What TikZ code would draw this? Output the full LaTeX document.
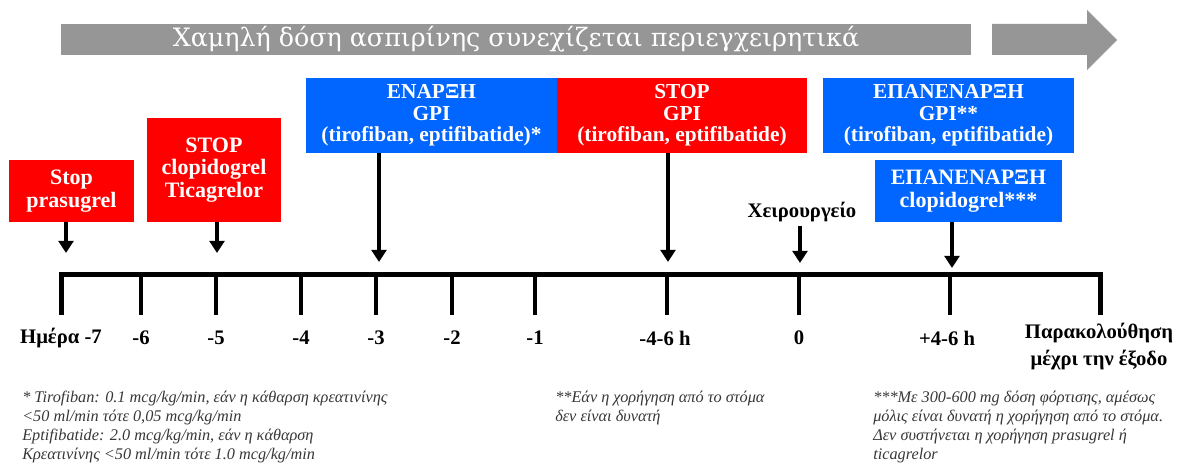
\documentclass[tikz,border=0pt]{standalone}
\usepackage{fontspec}
\setmainfont{Liberation Serif}
\newfontfamily\titlefont{DejaVu Serif}
\usetikzlibrary{arrows.meta}
\definecolor{boxred}{RGB}{255,0,0}
\definecolor{boxblue}{RGB}{0,102,255}
\definecolor{bargray}{RGB}{150,150,150}
\definecolor{notegray}{RGB}{55,55,55}
\begin{document}
\begin{tikzpicture}[x=0.75pt,y=-0.75pt,
  box/.style={rectangle, inner sep=0pt, text=white, font=\bfseries\fontsize{16}{16}\selectfont, align=center},
  redbox/.style={box, fill=boxred},
  bluebox/.style={box, fill=boxblue},
  arr/.style={line width=3pt, -{Triangle[width=11pt,length=9pt]}},
  tickline/.style={line width=3pt},
  lab/.style={font=\bfseries\fontsize{15.5}{20}\selectfont, align=center, inner sep=0pt},
  note/.style={font=\itshape\fontsize{12.2}{14.25}\selectfont, text=notegray, align=left, anchor=north west, inner sep=0pt}]
\useasboundingbox (0,0) rectangle (1190,466);

% top gray arrow
\node[fill=bargray, minimum width=910*0.75pt, minimum height=31*0.75pt, inner sep=0pt,
      text=white, font=\titlefont\fontsize{19}{20}\selectfont] (title) at (516,39.5)
      {Χαμηλή δόση ασπιρίνης συνεχίζεται περιεγχειρητικά};
\fill[bargray] (992,24) -- (1087,24) -- (1087,10) -- (1117,40) -- (1087,70) -- (1087,55) -- (992,55) -- cycle;

% boxes
\node[redbox, minimum width=125*0.75pt, minimum height=62*0.75pt, font=\bfseries\fontsize{16.5}{17}\selectfont] (b1) at (71.5,191) {Stop\\prasugrel};
\node[redbox, minimum width=134*0.75pt, minimum height=104*0.75pt, font=\bfseries\fontsize{16.5}{17}\selectfont] (b2) at (214,170) {STOP\\clopidogrel\\Ticagrelor};
\node[bluebox, minimum width=251*0.75pt, minimum height=75*0.75pt] (b3) at (431.5,115.5) {ΕΝΑΡΞΗ\\GPI\\(tirofiban, eptifibatide)*};
\node[redbox, minimum width=250*0.75pt, minimum height=75*0.75pt] (b4) at (682,115.5) {STOP\\GPI\\(tirofiban, eptifibatide)};
\node[bluebox, minimum width=251*0.75pt, minimum height=75*0.75pt] (b5) at (948.5,115.5) {ΕΠΑΝΕΝΑΡΞΗ\\GPI**\\(tirofiban, eptifibatide)};
\node[bluebox, minimum width=187*0.75pt, minimum height=62*0.75pt, font=\bfseries\fontsize{16.5}{17}\selectfont] (b6) at (968.5,191) {ΕΠΑΝΕΝΑΡΞΗ\\clopidogrel***};
\node[lab] (xc) at (802,212) {Χειρουργείο};

% timeline coordinates
\coordinate (t7) at (61,275);
\coordinate (t6) at (141,275);
\coordinate (t5) at (216,275);
\coordinate (t4) at (301,275);
\coordinate (t3) at (376,275);
\coordinate (t2) at (452,275);
\coordinate (t1) at (535,275);
\coordinate (th) at (667,275);
\coordinate (t0) at (799,275);
\coordinate (tp) at (950,275);
\coordinate (te) at (1100,275);

\foreach \t in {t6,t5,t4,t3,t2,t1,th,t0,tp}
  \draw[tickline] (\t) -- ++(0,40);
\draw[line width=3.75pt, line join=miter] ([yshift=-40*0.75pt]t7) -- (t7) -- (te) -- ([yshift=-40*0.75pt]te);

% arrow end points
\coordinate (e1) at (66,253);
\coordinate (e2) at (217,253);
\coordinate (e3) at (379,262);
\coordinate (e4) at (668,262);
\coordinate (e5) at (800,263);
\coordinate (e6) at (952,268);

\draw[arr] (b1.south -| e1) -- (e1);
\draw[arr] (b2.south -| e2) -- (e2);
\draw[arr] (b3.south -| e3) -- (e3);
\draw[arr] (b4.south -| e4) -- (e4);
\draw[arr] ([yshift=-4*0.75pt]xc.south -| e5) -- (e5);
\draw[arr] (b6.south -| e6) -- (e6);

% labels
\node[lab] (l7) at (61,338) {Ημέρα -7};
\node[lab] (l6) at (141,338) {-6};
\node[lab] (l5) at (216,338) {-5};
\node[lab] (l4) at (301,338) {-4};
\node[lab] (l3) at (376,338) {-3};
\node[lab] (l2) at (452,338) {-2};
\node[lab] (l1) at (535,338) {-1};
\node[lab] (lh) at (665,338) {-4-6 h};
\node[lab] (l0) at (799,338) {0};
\node[lab] (lp) at (947,338) {+4-6 h};
\node[lab, font=\bfseries\fontsize{15.5}{20.25}\selectfont] (le) at (1099,346.5) {Παρακολούθηση\\μέχρι την έξοδο};

% footnotes
\node[note] (n1) at (22,391) {* Tirofiban: 0.1 mcg/kg/min, εάν η κάθαρση κρεατινίνης\\<50 ml/min τότε 0,05 mcg/kg/min\\Eptifibatide: 2.0 mcg/kg/min, εάν η κάθαρση\\Κρεατινίνης <50 ml/min τότε 1.0 mcg/kg/min};
\node[note] (n2) at (555,391) {**Εάν η χορήγηση από το στόμα\\δεν είναι δυνατή};
\node[note] (n3) at (873,391) {***Με 300-600 mg δόση φόρτισης, αμέσως\\μόλις είναι δυνατή η χορήγηση από το στόμα.\\Δεν συστήνεται η χορήγηση prasugrel ή\\ticagrelor};
\end{tikzpicture}
\end{document}
